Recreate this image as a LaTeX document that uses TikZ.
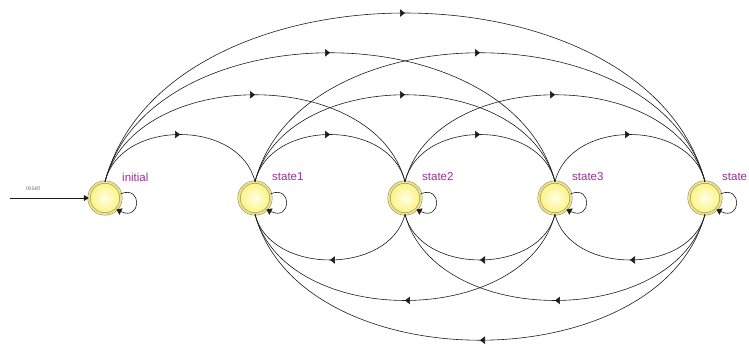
\documentclass[tikz,border=0pt]{standalone}
\usepackage{fontspec}
\setsansfont{Liberation Sans}
\usetikzlibrary{arrows.meta,decorations.markings}

\definecolor{edgecol}{HTML}{1C1C1C}
\definecolor{ringline}{HTML}{7E7A52}
\definecolor{ringfill}{HTML}{EDE38A}
\definecolor{ballin}{HTML}{FFFFE6}
\definecolor{ballout}{HTML}{FAF27E}
\definecolor{lblcol}{HTML}{9A2E9A}
\definecolor{resetcol}{HTML}{808080}

\begin{document}
\begin{tikzpicture}[x=1pt,y=1pt,
  state/.style={circle, minimum size=32pt, inner sep=0pt,
    draw=ringline, line width=0.45pt, double=ringfill, double distance=2pt,
    shading=radial, inner color=ballin, outer color=ballout},
  lbl/.style={anchor=west, inner sep=0pt, text=lblcol,
    font=\sffamily\fontsize{11.5}{12}\selectfont},
  trans/.style={draw=edgecol, line width=0.6pt, postaction={decorate},
    decoration={markings, mark=at position 0.5 with
      {\arrow{Triangle[length=5pt,width=7.5pt]}}}},
  selfloop/.style={draw=edgecol, line width=0.6pt,
    -{Triangle[length=5pt,width=7pt]}},
]
\useasboundingbox (0,0) rectangle (749,344);

% states
\foreach \i/\name in {0/initial,1/state1,2/state2,3/state3,4/state}{
  \node[state] (s\i) at (105+150*\i,146) {};
  \node[lbl] (l\i) at (122+150*\i,167) {\name};
}

% forward transitions, arched above the states
\foreach \a/\b/\h in {0/1/63, 0/2/116, 0/3/172, 0/4/225,
                      1/2/63, 1/3/116, 1/4/172,
                      2/3/63, 2/4/116,
                      3/4/63}{
  \pgfmathsetmacro{\dx}{15*(\b-\a)}
  \draw[trans] (s\a.north) .. controls +(\dx,\h) and +(-\dx,\h) .. (s\b.north);
}

% backward transitions, arched below the states
\foreach \a/\b/\h in {2/1/61, 3/2/61, 4/3/61,
                      3/1/115, 4/2/115,
                      4/1/168}{
  \pgfmathsetmacro{\dx}{15*(\a-\b)}
  \draw[trans] (s\a.south) .. controls +(-\dx,-\h) and +(\dx,-\h) .. (s\b.south);
}

% self loops
\foreach \i in {0,...,4}{
  \draw[selfloop] (s\i.15) .. controls +(22,9) and +(25,-12) .. (s\i.-45);
}

% reset input
\coordinate (rst) at (10,146);
\draw[draw=edgecol, line width=0.6pt, -{Triangle[length=5pt,width=6pt]}] (rst) -- (s0.west);
\node[text=resetcol, font=\sffamily\fontsize{6.5}{7}\selectfont] (rlbl) at (33,156) {reset};
\end{tikzpicture}
\end{document}
